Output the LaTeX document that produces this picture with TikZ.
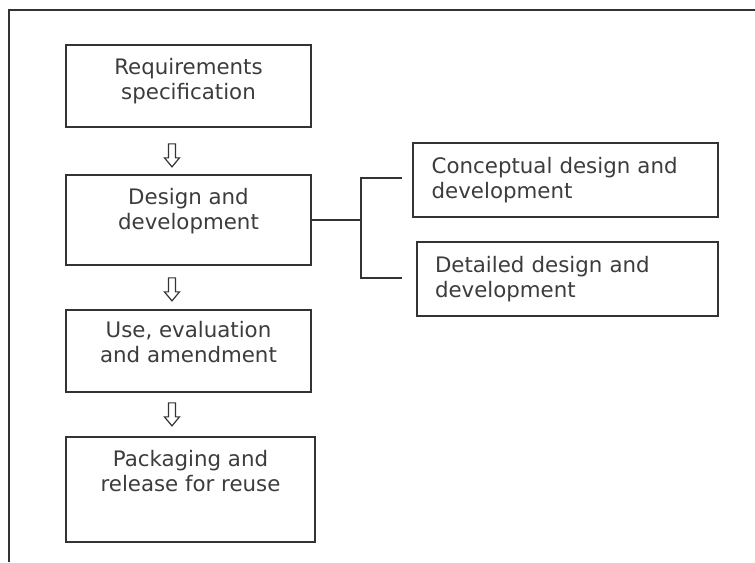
\documentclass[tikz,border=0pt]{standalone}
\usepackage{fontspec}
\setmainfont{DejaVu Sans}
\usepackage{tikz}
\usetikzlibrary{calc}
\definecolor{linegray}{HTML}{333333}
\definecolor{textgray}{HTML}{3C3C3C}

\begin{document}
\begin{tikzpicture}[x=0.75pt,y=-0.75pt,
		font=\fontsize{16pt}{18.75pt}\selectfont, text=textgray,
		stage/.style={rectangle,draw=linegray,line width=1.3pt,inner sep=0pt},
		txt/.style={anchor=north,align=center,inner sep=0pt,yshift=-10.5pt},
		sub/.style={rectangle,draw=linegray,line width=1.3pt,align=left,inner xsep=14pt,minimum height=55.5pt},
		hollow/.style={draw=linegray,line width=0.9pt,fill=white,line join=miter},
		frame/.style={draw=linegray,line width=1.4pt}]
	\useasboundingbox (0,0) rectangle (755,562);
	\draw [frame] (9,562) -- (9,10) -- (755,10);
	\path 	(188.5,86) 	node 	(req) [stage, minimum width=183.75pt, minimum height=61.5pt,
				label={[txt, name=reqtxt] north:Requirements\\specification} ] {}
		(188.5,220) 	node 	(des) [stage, minimum width=183.75pt, minimum height=67.5pt,
				label={[txt, name=destxt] north:Design and\\development} ] {}
		(188.5,351) 	node 	(use) [stage, minimum width=183.75pt, minimum height=61.5pt,
				label={[txt, name=usetxt, yshift=1.5pt] north:Use, evaluation\\and amendment} ] {}
		(190.5,489.5) 	node 	(pack) [stage, minimum width=186.75pt, minimum height=78.75pt,
				label={[txt, name=packtxt] north:Packaging and\\release for reuse} ] {};
	\path 	(565.5,180) 	node 	(concept) [sub, text width=200.75pt] {Conceptual design and\\development}
		(567.5,279) 	node 	(detail) [sub, text width=198.75pt, inner xsep=13.5pt] {Detailed design and\\development};
	% hollow arrows between the stages
	\foreach \a/\d in {req/12pt, des/9pt, use/7.5pt}
		\draw [hollow] ([xshift=-12.4pt,yshift=-\d]\a.south) ++(-3.5,0) -- ++(7,0) -- ++(0,14)
			-- ++(4,0) -- ++(-7.5,9) -- ++(-7.5,-9) -- ++(4,0) -- cycle;
	% bracket to the sub-stages
	\coordinate (brk) at (des.east -| 361,0);
	\coordinate (ctop) at (402,178);
	\coordinate (cbot) at (402,278);
	\draw [linegray,line width=1.3pt] (des.east) -- (brk);
	\draw [linegray,line width=1.3pt] (ctop) -| (brk) |- (cbot);
\end{tikzpicture}
\end{document}
